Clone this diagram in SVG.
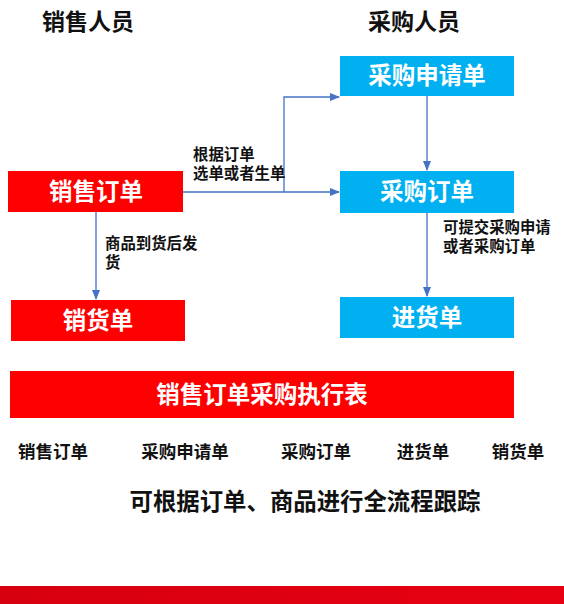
<svg xmlns="http://www.w3.org/2000/svg" width="564" height="604" viewBox="0 0 564 604">
<style>
text{font-family:"Noto Sans CJK SC","Liberation Sans",sans-serif;font-weight:bold;}
.hd{font-size:23px;fill:#111;text-anchor:middle;}
.bx{font-size:23.5px;fill:#fff;text-anchor:middle;dominant-baseline:central;}
.lb{font-size:15.4px;fill:#111;}
.row{font-size:17.5px;fill:#111;text-anchor:middle;}
.red{fill:#ff0000;}
.blue{fill:#00b0f0;}
.ln{stroke:#4472c4;stroke-width:1.3;fill:none;}
</style>
<defs>
<marker id="ah" markerWidth="10" markerHeight="8" refX="9" refY="4" orient="auto" markerUnits="userSpaceOnUse">
<path d="M0,0 L10,4 L0,8 Z" fill="#4472c4"/>
</marker>
<linearGradient id="band" x1="0" y1="0" x2="1" y2="0">
<stop offset="0" stop-color="#d7000f"/>
<stop offset="1" stop-color="#e60012"/>
</linearGradient>
</defs>
<rect width="564" height="604" fill="#fff"/>
<text class="hd" x="88" y="30">销售人员</text>
<text class="hd" x="414" y="30">采购人员</text>
<g id="connectors">
<path class="ln" d="M183,192 L339,192" marker-end="url(#ah)"/>
<path class="ln" d="M284,192 L284,97 L339,97" marker-end="url(#ah)"/>
<path class="ln" d="M427,96 L427,170" marker-end="url(#ah)"/>
<path class="ln" d="M427,213 L427,296" marker-end="url(#ah)"/>
<path class="ln" d="M96,212 L96,299" marker-end="url(#ah)"/>
</g>
<g id="n-sales-order"><rect class="red" x="8" y="171" width="175" height="41"/><text class="bx" x="96" y="189.5">销售订单</text></g>
<g id="n-purchase-request"><rect class="blue" x="340" y="56" width="174" height="40"/><text class="bx" x="427" y="74">采购申请单</text></g>
<g id="n-purchase-order"><rect class="blue" x="340" y="171" width="174" height="42"/><text class="bx" x="427" y="190">采购订单</text></g>
<g id="n-delivery"><rect class="red" x="11" y="300" width="174" height="41"/><text class="bx" x="98" y="318.5">销货单</text></g>
<g id="n-receipt"><rect class="blue" x="340" y="297" width="174" height="41"/><text class="bx" x="427" y="315.5">进货单</text></g>
<g id="labels">
<text class="lb"><tspan x="193" y="160">根据订单</tspan><tspan x="193" y="179">选单或者生单</tspan></text>
<text class="lb"><tspan x="105" y="249">商品到货后发</tspan><tspan x="105" y="268">货</tspan></text>
<text class="lb"><tspan x="443" y="233">可提交采购申请</tspan><tspan x="443" y="252">或者采购订单</tspan></text>
</g>
<g id="n-table"><rect class="red" x="10" y="371" width="504" height="47"/><text class="bx" x="262" y="392.5">销售订单采购执行表</text></g>
<g id="row">
<text class="row" x="53" y="458">销售订单</text>
<text class="row" x="185" y="458">采购申请单</text>
<text class="row" x="316" y="458">采购订单</text>
<text class="row" x="423" y="458">进货单</text>
<text class="row" x="518" y="458">销货单</text>
</g>
<text x="305" y="510" style="font-size:23.4px;fill:#111;text-anchor:middle;">可根据订单、商品进行全流程跟踪</text>
<rect x="0" y="586" width="564" height="18" fill="url(#band)"/>
</svg>
